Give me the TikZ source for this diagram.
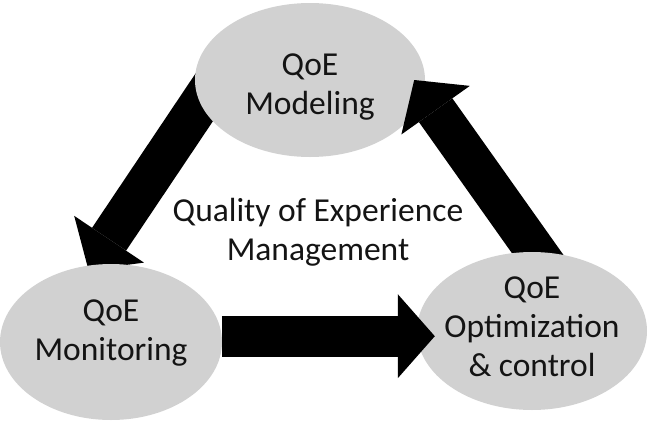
\documentclass[tikz,border=0pt]{standalone}
\usepackage{fontspec}
\setmainfont{Carlito}
\usepackage{xcolor}
\usepackage{tikz}
\usetikzlibrary{shapes.geometric, arrows.meta, calc}
\definecolor{QoEGray}{RGB}{209, 209, 209}
\definecolor{QoEInk}{RGB}{20, 20, 20}
\pgfdeclarelayer{arrowback}
\pgfdeclarelayer{ovaltop}
\pgfdeclarelayer{arrowmid}
\pgfsetlayers{arrowback,ovaltop,arrowmid,main}
\tikzset{
  qoetext/.style={align=center, text=QoEInk, font=\fontsize{33.5}{39}\selectfont},
  qoeoval/.style={qoetext, ellipse, fill=QoEGray, inner sep=-20pt},
  blockarrow/.style={draw=black, line width=41pt, -{Triangle[width=84pt, length=37pt, line width=0pt]}}
}

\begin{document}
\begin{tikzpicture}[x=1pt, y=-1pt]
    \useasboundingbox (0,0) rectangle (651,424);
    \begin{pgfonlayer}{ovaltop}
      \node[qoeoval, minimum width=230pt, minimum height=154pt] (model) at (310,80) {\rule{0pt}{36pt}QoE\\Modeling};
    \end{pgfonlayer}
    \node[qoeoval, minimum width=222pt, minimum height=156pt] (monitor) at (111,342) {QoE\\Monitoring\rule[-23pt]{0pt}{23pt}};
    \node[qoeoval, minimum width=230pt, minimum height=158pt] (optim) at (532,331) {QoE\\Optimization\\\& control\rule[-8pt]{0pt}{8pt}};
    \node[qoetext] (title) at (318,232) {Quality of Experience\\Management};
    \begin{pgfonlayer}{arrowback}
      \draw[blockarrow, shorten <=-30pt, shorten >=-6pt] (model.192) -- (monitor.104);
    \end{pgfonlayer}
    \begin{pgfonlayer}{arrowmid}
      \draw[blockarrow, shorten <=-30pt] (optim.87) -- ([xshift=-11pt]model.east);
    \end{pgfonlayer}
    \draw[blockarrow] (monitor.3) -- ($(monitor.3 -| optim.west)+(18,0)$);
  \end{tikzpicture}
\end{document}
